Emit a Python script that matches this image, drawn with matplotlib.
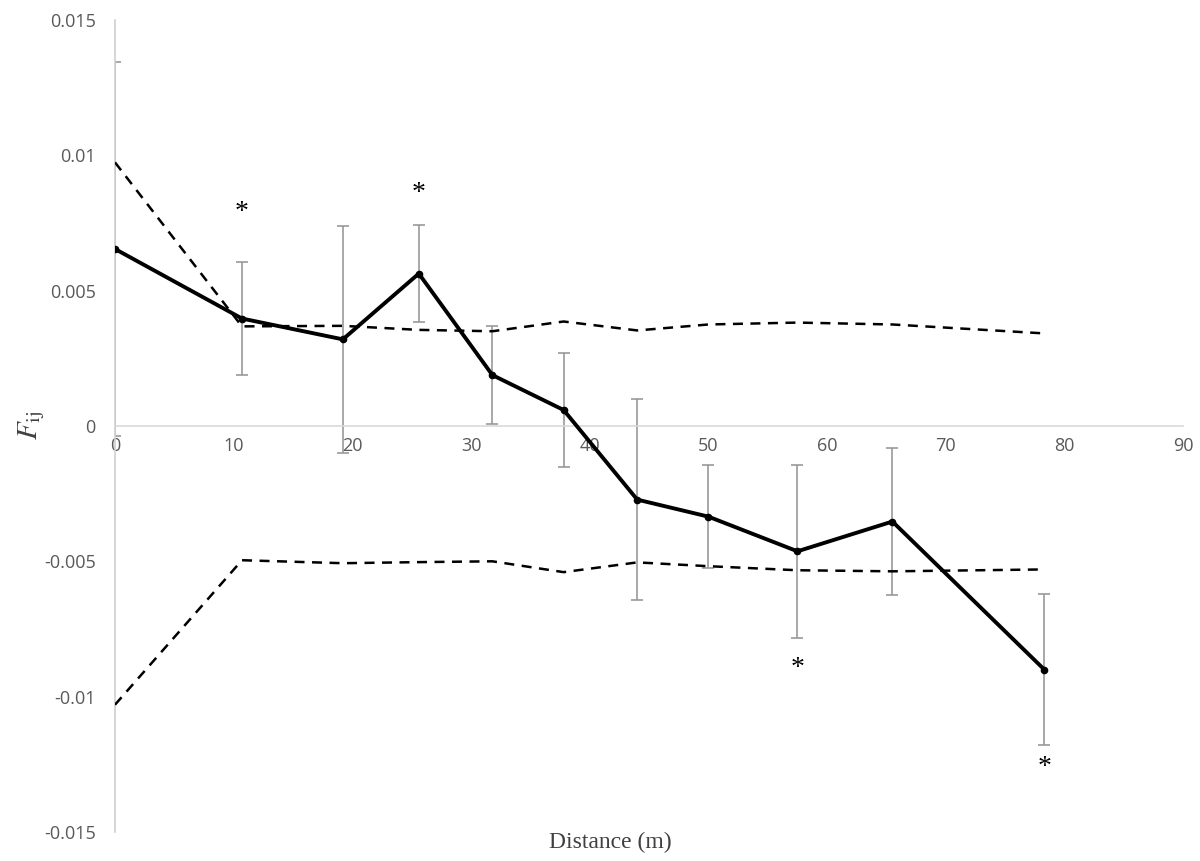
import matplotlib.pyplot as plt

# distance classes (m) and kinship coefficient per class
distance = [0, 10.7, 19.2, 25.6, 31.8, 37.8, 44.0, 50.0, 57.5, 65.5, 78.3]
fij = [0.00654, 0.00397, 0.0032, 0.00563, 0.00188, 0.00059,
       -0.00272, -0.00335, -0.00463, -0.00353, -0.0090]
fij_err = [0.0069, 0.0021, 0.0042, 0.0018, 0.0018, 0.0021,
           0.0037, 0.0019, 0.0032, 0.0027, 0.0028]

# 95% confidence envelope from permutations
upper_ci = [0.00974, 0.00368, 0.0037, 0.00355, 0.0035, 0.00386,
            0.00353, 0.00375, 0.00382, 0.00375, 0.00342]
lower_ci = [-0.0103, -0.00496, -0.00507, -0.00503, -0.0050, -0.0054,
            -0.00504, -0.00518, -0.00533, -0.00537, -0.0053]

# significant classes marked with an asterisk
star_x = [10.7, 25.6, 57.5, 78.3]
star_y = [0.0079, 0.0086, -0.00895, -0.01262]

fig = plt.figure(figsize=(12, 8.61), dpi=100)
ax = fig.add_axes([0.0958, 0.0337, 0.8902, 0.9431])

ax.errorbar(distance, fij, yerr=fij_err, fmt="none", ecolor="#999999",
            elinewidth=1.2, capsize=4.5, capthick=1.2, zorder=2)
ax.plot(distance, upper_ci, color="black", lw=1.8, ls=(0, (4, 3)), zorder=3)
ax.plot(distance, lower_ci, color="black", lw=1.8, ls=(0, (4, 3)), zorder=3)
ax.plot(distance, fij, color="black", lw=2.8, marker="o", ms=4.5, zorder=4)

for x, y in zip(star_x, star_y):
    ax.text(x, y, "*", ha="center", va="center", fontsize=20,
            family="Liberation Serif", color="black")

ax.set_xlim(0, 90)
ax.set_ylim(-0.015, 0.015)
ax.set_xticks(range(0, 91, 10))
ax.set_yticks([-0.015, -0.01, -0.005, 0, 0.005, 0.01, 0.015])
ax.set_yticklabels(["-0.015", "-0.01", "-0.005", "0", "0.005", "0.01", "0.015"])

for s in ["top", "right"]:
    ax.spines[s].set_visible(False)
ax.spines["bottom"].set_position(("data", 0))
ax.spines["bottom"].set_color("#d9d9d9")
ax.spines["left"].set_color("#d0d0d0")
ax.spines["bottom"].set_linewidth(1.2)
ax.spines["left"].set_linewidth(1.2)
ax.tick_params(length=0, labelsize=13, labelcolor="#595959")
ax.tick_params(axis="x", pad=8)
ax.tick_params(axis="y", pad=14)
for lab in ax.get_xticklabels() + ax.get_yticklabels():
    lab.set_family("Open Sans")

fig.text(0.509, 0.021, "Distance (m)", ha="center", va="center",
         fontsize=17, family="Liberation Serif", color="#404040")
fig.text(0.026, 0.506, r"$F_{\mathrm{ij}}$", ha="center", va="center",
         rotation=90, fontsize=21, color="#404040",
         math_fontfamily="stix")

fig.savefig("out.png", dpi=100)
